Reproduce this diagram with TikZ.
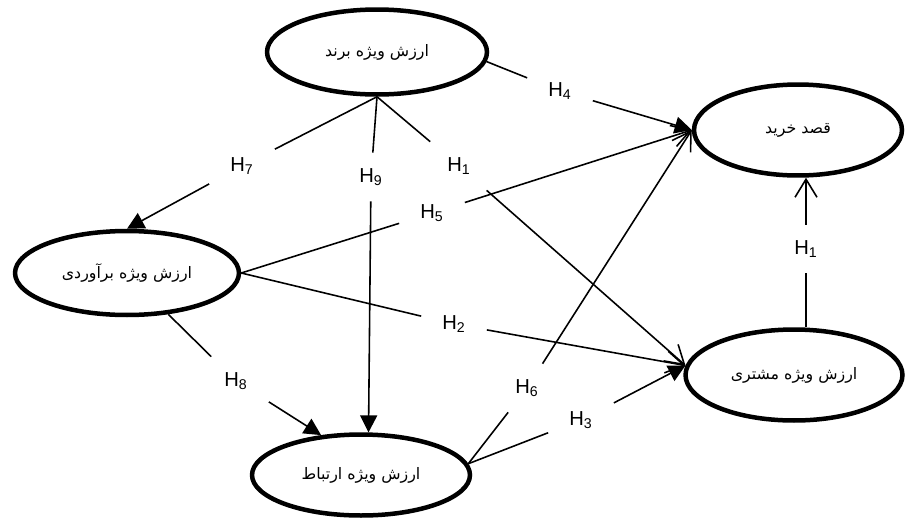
\documentclass[tikz,border=0pt]{standalone}
\usepackage{fontspec}
\usepackage{tikz}
\usetikzlibrary{
  arrows.meta,
  shapes.geometric,
  positioning
}
\newfontfamily\persianfont[Script=Arabic]{DejaVu Sans}
\newfontfamily\hypfont{Liberation Sans}
\TeXXeTstate=1

\begin{document}
\begin{tikzpicture}[
      x=0.02cm, y=-0.02cm,
      construct/.style={
         ellipse,
         line width=0.9mm,
         draw=black,
         inner sep=0pt,
         font=\persianfont\fontsize{9}{11}\selectfont
      },
      hyp/.style={
         rectangle,
         minimum width=13mm,
         minimum height=9.6mm,
         inner sep=0pt,
         font=\hypfont\fontsize{11.5}{13}\selectfont
      },
      link/.style={line width=0.9pt,draw=black},
      full tip/.style={link,-{Triangle[length=3.4mm,width=3.4mm]}},
      open tip/.style={link,-{Straight Barb[length=3.6mm,width=4.4mm]}},
    ]
    \useasboundingbox (0,0) rectangle (905,518);
    % constructs
    \node (brand) [construct, minimum width=44mm, minimum height=17mm] at (377,52) {\beginR ارزش ویژه برند\endR};
    \node (intent) [construct, minimum width=41.6mm, minimum height=18.2mm] at (798,130) {\beginR قصد خرید\endR};
    \node (customer) [construct, minimum width=43.4mm, minimum height=18.2mm] at (794,375) {\beginR ارزش ویژه مشتری\endR};
    \node (estimated) [construct, minimum width=44.8mm, minimum height=16.8mm] at (127,273) {\beginR ارزش ویژه برآوردی\endR};
    \node (relationship) [construct, minimum width=43.6mm, minimum height=16.2mm] at (361,475) {\beginR ارزش ویژه ارتباط\endR};
    % hypotheses
    \node (h4) [hyp] at (560,91) {H\textsubscript{4}};
    \node (h7) [hyp] at (242,166) {H\textsubscript{7}};
    \node (h9) [hyp] at (371,177) {H\textsubscript{9}};
    \node (h1a) [hyp] at (459,166) {H\textsubscript{1}};
    \node (h5) [hyp] at (432,213) {H\textsubscript{5}};
    \node (h2) [hyp] at (454,324) {H\textsubscript{2}};
    \node (h8) [hyp] at (236,381) {H\textsubscript{8}};
    \node (h6) [hyp] at (527,388) {H\textsubscript{6}};
    \node (h3) [hyp] at (581,420) {H\textsubscript{3}};
    \node (h1b) [hyp] at (806,249) {H\textsubscript{1}};
    % paths
    \draw[link] (brand.-5) -- (h4);
    \draw[full tip] (h4) -- (intent.west);
    \draw[link] (brand.south) -- (h7);
    \draw[full tip] (h7) -- (estimated.north);
    \draw[link] (brand.south) -- (h9);
    \draw[full tip] (h9) -- (relationship.80);
    \draw[link] (brand.south) -- (h1a);
    \draw[open tip] (h1a) -- (customer.175);
    \draw[link] (estimated.east) -- (h5);
    \draw[open tip] (h5) -- (intent.west);
    \draw[link] (estimated.east) -- (h2);
    \draw[open tip] (h2) -- (customer.175);
    \draw[link] (estimated.-45) -- (h8);
    \draw[full tip] (h8) -- (relationship.135);
    \draw[link] (relationship.6) -- (h6);
    \draw[open tip] (h6) -- (intent.west);
    \draw[link] (relationship.6) -- (h3);
    \draw[full tip] (h3) -- (customer.175);
    \draw[link] (customer.north -| h1b) -- (h1b);
    \draw[open tip] (h1b) -- (h1b |- intent.south);
\end{tikzpicture}
\end{document}
